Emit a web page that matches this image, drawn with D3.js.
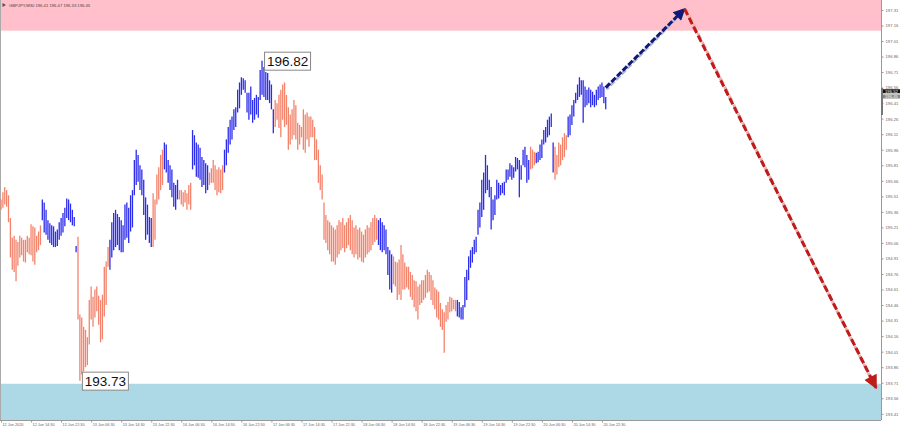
<!DOCTYPE html>
<html><head><meta charset="utf-8">
<script src="https://cdn.jsdelivr.net/npm/d3@7"></script>
<style>
html,body{margin:0;padding:0;background:#fff;}
svg{display:block;font-family:"Liberation Sans",Arial,sans-serif;}
</style></head>
<body>
<svg id="c" width="900" height="431"></svg>
<script>
// ---------- DATA ----------
const symbolTitle = "GBPJPY,M30  196.41 196.47 196.33 196.45";
const barHigh = [
195.48,195.55,195.60,195.57,195.52,195.30,195.11,195.13,195.09,195.07,195.13,195.11,195.09,195.09,195.13,195.11,195.24,195.22,195.21,195.13,195.17,195.23,
195.48,195.45,195.38,195.28,195.25,195.23,195.22,195.17,195.19,195.26,195.30,195.35,195.40,195.49,195.48,195.44,195.38,195.31,195.03,
195.12,194.37,194.34,194.25,194.22,194.15,194.51,194.64,194.54,194.61,194.64,194.55,194.51,194.56,194.83,194.88,195.02,
195.09,195.26,195.35,195.38,195.34,195.31,195.28,195.23,195.43,195.45,195.40,195.52,195.57,195.86,195.96,195.91,195.81,195.77,195.67,195.50,195.43,195.31,195.30,
195.54,195.48,195.72,195.79,195.91,195.96,
196.03,196.01,195.86,195.81,195.77,195.64,195.62,195.67,
195.57,195.57,195.55,195.57,195.54,195.62,195.64,
196.15,196.10,196.03,196.01,195.98,195.89,195.86,195.83,195.81,
195.74,195.78,195.86,195.81,195.77,195.79,195.77,195.81,
195.96,196.06,196.18,196.25,196.28,196.35,196.37,196.54,196.61,196.66,196.65,196.63,196.51,196.51,196.57,196.44,196.46,196.49,196.47,196.73,196.82,196.76,196.71,196.70,196.63,196.59,196.35,
196.44,196.41,196.49,196.54,196.59,196.61,196.49,196.37,196.30,196.35,196.44,196.39,196.22,196.20,196.18,196.35,196.30,196.32,196.28,196.28,196.25,196.18,196.06,195.96,195.81,195.72,195.45,195.33,195.28,195.26,195.23,195.21,195.19,195.23,195.28,195.26,195.30,195.23,195.26,195.30,195.33,195.28,195.21,195.23,195.19,195.21,195.17,195.14,195.19,195.23,195.21,195.26,195.30,195.33,195.30,
195.28,195.30,195.26,195.23,195.19,195.02,194.99,194.95,
194.93,194.88,194.87,194.90,195.04,194.95,194.87,194.83,194.83,194.78,194.75,194.70,194.69,194.64,194.66,194.70,194.70,194.75,194.80,194.78,194.75,194.70,194.63,194.61,194.59,194.48,194.42,194.39,194.46,194.49,194.54,194.53,194.51,194.51,
194.51,194.49,194.44,194.46,194.73,194.80,194.93,194.99,195.02,195.09,195.12,195.38,195.45,195.67,195.74,195.91,195.81,195.67,195.60,195.48,195.52,195.67,195.64,195.62,195.64,195.65,195.77,195.77,195.83,195.81,195.79,195.89,195.88,195.86,195.81,195.96,195.99,195.91,195.86,
195.99,195.96,195.94,
195.93,195.94,196.01,196.06,196.15,196.18,196.25,196.28,196.31,196.03,
195.99,195.91,196.03,196.01,196.08,196.12,196.10,
196.28,196.30,196.39,196.44,196.51,196.59,196.66,196.63,196.63,196.57,196.54,196.56,196.54,196.52,196.49,196.54,196.57,196.59,196.61,196.57,196.47
];
const barLow = [
195.38,195.40,195.43,195.41,195.26,194.92,194.80,194.78,194.69,194.84,194.92,194.94,194.88,194.87,194.97,194.95,194.94,194.88,194.85,194.97,194.99,195.04,
195.28,195.16,195.14,195.09,195.06,195.04,195.02,195.02,195.03,195.09,195.13,195.16,195.22,195.30,195.28,195.26,195.23,195.22,194.97,
194.32,193.73,193.79,193.82,193.86,193.88,194.08,194.32,194.25,194.34,194.40,194.27,194.10,194.13,194.35,194.46,194.83,
194.80,194.92,194.99,195.02,195.04,194.99,194.97,194.97,195.09,195.11,195.06,195.17,195.21,195.52,195.62,195.65,195.57,195.52,195.33,195.09,195.14,195.06,195.02,
195.02,195.09,195.43,195.48,195.57,195.62,
195.77,195.74,195.64,195.57,195.50,195.41,195.38,195.48,
195.48,195.43,195.41,195.45,195.38,195.43,195.38,
195.77,195.81,195.70,195.69,195.67,195.60,195.62,195.54,195.57,
195.62,195.64,195.64,195.57,195.52,195.55,195.54,195.57,
195.74,195.81,195.93,196.01,196.06,196.15,196.18,196.32,196.36,196.49,196.54,196.51,196.32,196.25,196.30,196.22,196.25,196.30,196.27,196.44,196.49,196.47,196.44,196.44,196.41,196.35,196.12,
196.18,196.25,196.17,196.08,196.25,196.18,196.20,195.96,196.01,196.06,196.10,196.06,195.96,196.01,196.08,195.96,195.93,196.06,195.99,196.08,196.08,195.86,195.86,195.64,195.57,195.48,195.09,195.06,194.99,194.95,194.88,194.88,194.85,194.92,194.95,194.99,195.01,194.97,195.01,195.04,194.99,194.95,194.92,194.95,194.90,194.92,194.88,194.87,194.92,194.95,194.97,194.99,195.04,195.07,195.09,
195.04,194.99,194.97,194.99,194.95,194.75,194.61,194.58,
194.66,194.64,194.51,194.56,194.51,194.61,194.61,194.63,194.61,194.54,194.51,194.44,194.40,194.32,194.46,194.48,194.51,194.53,194.58,194.59,194.51,194.46,194.42,194.34,194.32,194.25,194.22,194.00,194.30,194.32,194.39,194.40,194.42,194.40,
194.35,194.34,194.32,194.32,194.44,194.51,194.70,194.82,194.87,194.95,194.97,195.14,195.21,195.31,195.38,195.54,195.57,195.50,195.19,195.28,195.33,195.48,195.49,195.52,195.54,195.52,195.64,195.67,195.70,195.67,195.69,195.75,195.77,195.50,195.67,195.81,195.79,195.64,195.67,
195.77,195.78,195.81,
195.83,195.84,195.86,195.88,196.01,196.03,196.08,196.10,196.18,195.74,
195.67,195.72,195.79,195.81,195.86,195.89,195.96,
196.08,196.10,196.20,196.28,196.41,196.44,196.47,196.49,196.22,196.37,196.39,196.41,196.37,196.39,196.37,196.39,196.44,196.46,196.47,196.41,196.35
];
// wave segments: first bar index of each wave and its direction
const waveStart = [0,22,41,58,81,87,95,102,111,119,146,201,209,243,282,285,295,302];
const waveDir   = ["down","up","down","up","down","up","down","up","down","up","down","up","down","up","down","up","down","up"];
// zones
const resistanceZone = [197.11, 197.406];
const supportZone    = [193.35, 193.70];
// forecast path (bar index, price)
const forecastBar   = [322, 364, 466];
const forecastPrice = [196.56, 197.32, 193.66];
// marked extremes
const extremeBar   = [139, 42];
const extremePrice = [196.82, 193.73];
// axes
const priceTicks = [197.31,197.16,197.01,196.86,196.71,196.56,196.41,196.26,196.11,195.96,195.81,195.66,195.51,195.36,195.21,195.06,194.91,194.76,194.61,194.46,194.31,194.16,194.01,193.86,193.71,193.56,193.41];
const timeLabels = ["12 Jun 2020","12 Jun 14:30","12 Jun 22:30","13 Jun 06:30","13 Jun 14:30","13 Jun 22:30","16 Jun 06:30","16 Jun 14:30","16 Jun 22:30","17 Jun 06:30","17 Jun 14:30","17 Jun 22:30","18 Jun 06:30","18 Jun 14:30","18 Jun 22:30","19 Jun 06:30","19 Jun 14:30","19 Jun 22:30","20 Jun 06:30","20 Jun 14:30","20 Jun 22:30"];
const barsPerLabel = 16;
const bidPrice = 196.52, lastPrice = 196.45;

// ---------- LAYOUT ----------
const plotRight = 881, plotBottom = 420;
const BLUE = "#2c2cec", SALMON = "#f4836b";
const svg = d3.select("#c");
const x = d3.scaleLinear().domain([0, 466]).range([1, 1 + 466*1.878]);
const y = d3.scaleLinear().domain([193.35, 197.406]).range([plotBottom, 0]);

// zones
svg.append("rect").attr("x",0).attr("width",plotRight)
  .attr("y",y(resistanceZone[1])).attr("height",y(resistanceZone[0])-y(resistanceZone[1]))
  .attr("fill","#ffc0cb");
svg.append("rect").attr("x",0).attr("width",plotRight)
  .attr("y",y(supportZone[1])).attr("height",y(supportZone[0])-y(supportZone[1]))
  .attr("fill","#add8e6");

// frame
svg.append("line").attr("x1",0.5).attr("x2",0.5).attr("y1",0).attr("y2",plotBottom).attr("stroke","#aaa");
svg.append("line").attr("x1",0).attr("x2",plotRight).attr("y1",plotBottom+0.5).attr("y2",plotBottom+0.5).attr("stroke","#999");

// header
svg.append("path").attr("d","M2.5,3 L6,5 L2.5,7 Z").attr("fill","#555");
svg.append("text").attr("x",9).attr("y",6.5).attr("font-size",4.2).attr("fill","#444").text(symbolTitle);

// bars
function colorOf(i){
  let k = 0;
  for (let j=0;j<waveStart.length;j++) if (i>=waveStart[j]) k=j;
  return waveDir[k]==="up" ? BLUE : SALMON;
}
const bars = barHigh.map((h,i)=>({i,h,l:barLow[i]}));
svg.append("g").selectAll("line").data(bars).join("line")
  .attr("x1",d=>x(d.i)).attr("x2",d=>x(d.i))
  .attr("y1",d=>y(d.h)).attr("y2",d=>y(d.l))
  .attr("stroke",d=>colorOf(d.i)).attr("stroke-width",1.3);

// forecast arrows
const defs = svg.append("defs");
defs.append("marker").attr("id","mBlue").attr("viewBox","0 0 10 10").attr("refX",9).attr("refY",5)
  .attr("markerWidth",5).attr("markerHeight",4).attr("orient","auto").attr("markerUnits","strokeWidth")
  .append("path").attr("d","M0,0 L10,5 L0,10 Z").attr("fill","#0d1b7a");
defs.append("marker").attr("id","mRed").attr("viewBox","0 0 10 10").attr("refX",9).attr("refY",5)
  .attr("markerWidth",6).attr("markerHeight",4.6).attr("orient","auto").attr("markerUnits","strokeWidth")
  .append("path").attr("d","M0,0 L10,5 L0,10 Z").attr("fill","#c01a1a");
const fp = forecastBar.map((b,k)=>[x(b), y(forecastPrice[k])]);
// light shadows
svg.append("line").attr("x1",fp[0][0]+1).attr("y1",fp[0][1]+1.5).attr("x2",fp[1][0]-2).attr("y2",fp[1][1]+3)
  .attr("stroke","#b8b8c8").attr("stroke-width",3).attr("stroke-dasharray","6,2").attr("stroke-dashoffset",3);
svg.append("line").attr("x1",fp[1][0]+1.5).attr("y1",fp[1][1]+1).attr("x2",fp[2][0]-3).attr("y2",fp[2][1]-5)
  .attr("stroke","#e6b0b0").attr("stroke-width",3).attr("stroke-dasharray","7,3").attr("stroke-dashoffset",4);
svg.append("line").attr("x1",fp[0][0]).attr("y1",fp[0][1]).attr("x2",fp[1][0]).attr("y2",fp[1][1])
  .attr("stroke","#0d1b7a").attr("stroke-width",3).attr("stroke-dasharray","6,2")
  .attr("marker-end","url(#mBlue)");
svg.append("line").attr("x1",fp[1][0]).attr("y1",fp[1][1]).attr("x2",fp[2][0]).attr("y2",fp[2][1])
  .attr("stroke","#c01a1a").attr("stroke-width",3).attr("stroke-dasharray","7,3")
  .attr("marker-end","url(#mRed)");

// extreme labels
extremeBar.forEach((b,k)=>{
  const px = x(b)+2, py = y(extremePrice[k]);
  const g = svg.append("g");
  g.append("rect").attr("x",px+0.5).attr("y",py-8.5).attr("width",46).attr("height",18)
    .attr("fill","#fff").attr("stroke","#888").attr("stroke-width",1);
  g.append("text").attr("x",px+23.5).attr("y",py+5).attr("text-anchor","middle")
    .attr("font-size",13.5).attr("fill","#111").text(extremePrice[k].toFixed(2));
});

// right price axis
const ya = svg.append("g").attr("transform",`translate(${plotRight+0.5},0)`)
  .call(d3.axisRight(y).tickValues(priceTicks).tickSize(2).tickPadding(2).tickFormat(d3.format(".2f")));
ya.select(".domain").attr("stroke","#999").attr("d",`M0,0V${plotBottom}`);
ya.selectAll(".tick line").attr("stroke","#999");
ya.selectAll("text").attr("font-size",4.2).attr("fill","#666").attr("font-family","Liberation Sans, Arial, sans-serif");

// current price markers
svg.append("rect").attr("x",plotRight).attr("y",88).attr("width",2).attr("height",27).attr("fill","#777");
[[bidPrice,"#111","#fff"],[lastPrice,"#888","#fff"]].forEach(([p,bg,fg],k)=>{
  const py = k===0 ? y(p)-0.5 : y(p)-2.5;
  svg.append("rect").attr("x",plotRight+2).attr("y",py-2).attr("width",17).attr("height",4).attr("fill",bg);
  svg.append("text").attr("x",plotRight+4).attr("y",py+1.5).attr("font-size",4.2).attr("fill",fg).text(p.toFixed(2));
});

// bottom time axis
const tickIdx = timeLabels.map((t,k)=>k*barsPerLabel);
const xa = svg.append("g").attr("transform",`translate(0,${plotBottom+0.5})`)
  .call(d3.axisBottom(x).tickValues(tickIdx).tickSize(2).tickPadding(1)
    .tickFormat((d,k)=>timeLabels[k]));
xa.select(".domain").remove();
xa.selectAll(".tick line").attr("stroke","#999");
xa.selectAll("text").attr("text-anchor","start").attr("dx",1).attr("font-size",3.8).attr("fill","#666")
  .attr("font-family","Liberation Sans, Arial, sans-serif");
</script>
</body></html>
